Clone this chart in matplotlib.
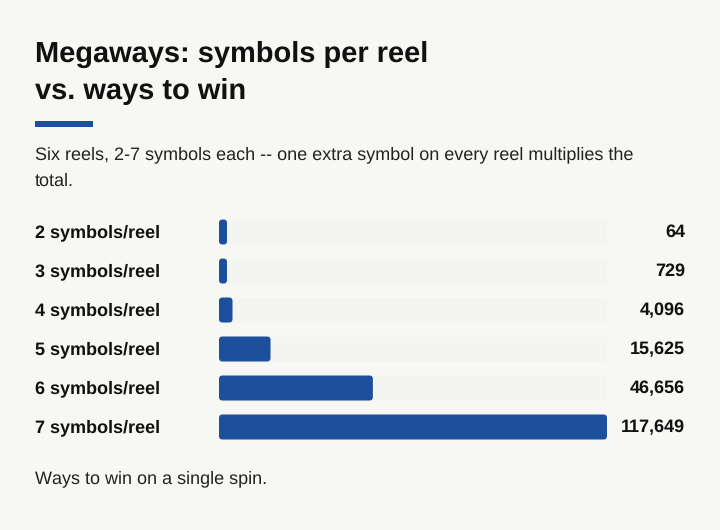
import matplotlib.pyplot as plt
from matplotlib.patches import FancyBboxPatch, Rectangle

plt.rcParams['font.family'] = ['Liberation Sans', 'DejaVu Sans']
plt.rcParams['text.hinting'] = 'no_hinting'
plt.rcParams['text.hinting_factor'] = 1

# data
labels = ['2 symbols/reel', '3 symbols/reel', '4 symbols/reel',
          '5 symbols/reel', '6 symbols/reel', '7 symbols/reel']
ways = [64, 729, 4096, 15625, 46656, 117649]

W, H = 720, 530
bg = '#f7f7f4'
blue = '#1c4f9c'
ink = '#111111'

fig = plt.figure(figsize=(W / 100, H / 100), dpi=100, facecolor=bg)


def fy(px):
    return 1 - px / H


# title, accent, subtitle
fig.text(35 / W, fy(62), 'Megaways: symbols per reel', fontsize=20.7, fontweight='bold',
         color=ink, va='baseline')
fig.text(35 / W, fy(99), 'vs. ways to win', fontsize=20.7, fontweight='bold',
         color=ink, va='baseline')
fig.patches.append(Rectangle((35 / W, fy(127)), 58 / W, 6 / H, transform=fig.transFigure,
                             facecolor=blue, edgecolor='none'))
fig.text(35 / W, fy(159), 'Six reels, 2-7 symbols each -- one extra symbol on every reel multiplies the',
         fontsize=12.9, color='#222222', va='baseline')
fig.text(35 / W, fy(186), 'total.', fontsize=12.9, color='#222222', va='baseline')

# bar axes: x 219..607 px, rows every 39 px starting at 232
x0, x1 = 219, 607
row = 39
top = 232 - row / 2
ax = fig.add_axes([x0 / W, fy(top + row * len(ways)), (x1 - x0) / W, row * len(ways) / H])
ax.set_facecolor('none')
xmax = max(ways)
ax.set_xlim(0, xmax)
ax.set_ylim(len(ways) - 0.5, -0.5)
ax.axis('off')

xpp = xmax / (x1 - x0)        # data units per pixel, x
ypp = 1 / row                 # data units per pixel, y
bar_h = 25 * ypp
for i, (lab, v) in enumerate(zip(labels, ways)):
    ax.add_patch(Rectangle((0, i - bar_h / 2), xmax, bar_h, facecolor='#f4f5f1',
                           edgecolor='none'))
    w = max(v, 8 * xpp)
    ax.add_patch(FancyBboxPatch((0, i - bar_h / 2), w, bar_h,
                                boxstyle=f'round,pad=0,rounding_size={3.5 * xpp}',
                                mutation_aspect=ypp / xpp, facecolor=blue, edgecolor='none'))
    base = 237 + row * i
    fig.text(35 / W, fy(base), lab, fontsize=12.9, fontweight='bold', color=ink,
             va='baseline')
    fig.text(685 / W, fy(base), f'{v:,}', fontsize=12.9, fontweight='bold', color=ink,
             va='baseline', ha='right')

fig.text(35 / W, fy(483), 'Ways to win on a single spin.', fontsize=12.9, color='#222222',
         va='baseline')

fig.savefig('out.png', dpi=100, facecolor=bg)
